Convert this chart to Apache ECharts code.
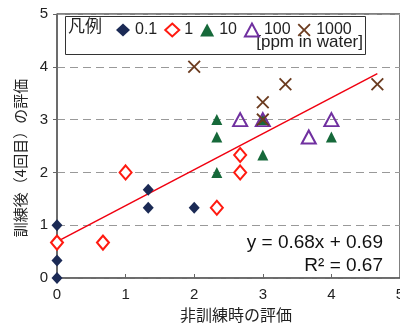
<!DOCTYPE html>
<html><head><meta charset="utf-8">
<script src="https://cdn.jsdelivr.net/npm/echarts@6/dist/echarts.min.js"></script>
<style>html,body{margin:0;padding:0;background:#fff}#c{width:400px;height:323px}</style>
</head><body><div id="c"></div>
<script>
var seriesNames = ['0.1', '1', '10', '100', '1000'];
var s01 = [[0,0],[0,0.33],[0,1],[1.33,1.67],[1.33,1.33],[2,1.33]];
var s1 = [[0,0.67],[0.67,0.67],[1,2],[2.33,1.33],[2.67,2],[2.67,2.33]];
var s10 = [[2.33,3],[2.33,2.67],[2.33,2],[3,2.33],[3,3],[4,2.67]];
var s100 = [[2.67,3],[3,3],[3.67,2.67],[4,3]];
var s1000 = [[2,4],[3,3],[3,3.33],[3.33,3.67],[4.67,3.67]];
var trendX = [0, 4.67];
var trendY = [0.69, 3.87];
var xTicks = [0,1,2,3,4,5];
var yTicks = [0,1,2,3,4,5];
var eqText = ['y = 0.68x + 0.69', 'R² = 0.67'];
var yName = '訓練後（4回目）の評価';
var xName = '非訓練時の評価';

var FONT = '"Liberation Sans", Arial, "Noto Sans CJK JP", sans-serif';
var CJK = '"Noto Sans CJK JP", sans-serif';
var CROSS = 'path://M0,1L1,0L5,4L9,0L10,1L6,5L10,9L9,10L5,6L1,10L0,9L4,5Z';
var chart = echarts.init(document.getElementById('c'), null, {renderer:'canvas'});
var trend = trendX.map(function(x,i){return [x, trendY[i]];});
chart.setOption({
  animation:false,
  textStyle:{fontFamily:FONT},
  grid:{left:57, right:0, top:14, bottom:45, outerBoundsMode:'none', containLabel:false,
    show:true, borderColor:'#000', borderWidth:1, backgroundColor:'transparent'},
  xAxis:{type:'value', min:xTicks[0], max:xTicks[xTicks.length-1], interval:1,
    name:xName, nameLocation:'middle', nameGap:28,
    nameTextStyle:{fontSize:16, color:'#222', fontFamily:CJK, padding:[0,0,0,15]},
    axisLine:{lineStyle:{color:'#666', width:1.5}},
    axisTick:{inside:true, length:4, lineStyle:{color:'#666'}},
    axisLabel:{fontSize:15, color:'#222', margin:9},
    splitLine:{show:false}},
  yAxis:{type:'value', min:yTicks[0], max:yTicks[yTicks.length-1], interval:1,
    axisLine:{show:true, lineStyle:{color:'#666', width:1.5}},
    axisTick:{show:true, inside:false, length:4, lineStyle:{color:'#666'}},
    axisLabel:{fontSize:15, color:'#222', margin:9},
    splitLine:{show:true, lineStyle:{color:'#999', type:[8,5], width:1}}},
  legend:{left:111, top:17, itemWidth:14, itemHeight:13, itemGap:7,
    textStyle:{fontSize:16, color:'#222', fontFamily:FONT},
    data:seriesNames},
  graphic:[
    {type:'rect', shape:{x:65.5, y:16.5, width:300, height:38}, style:{fill:'#fff', stroke:'#333', lineWidth:1}, z:-1, silent:true},
    {type:'text', left:68, top:17, style:{text:'凡例', fontSize:17, fill:'#222', fontFamily:CJK}},
    {type:'text', right:37, top:34, style:{text:'[ppm in water]', fontSize:17, fill:'#222', fontFamily:FONT}},
    {type:'text', right:17, top:233, style:{text:eqText[0], fontSize:19, fill:'#111', fontFamily:FONT, align:'right'}},
    {type:'text', right:17, top:256, style:{text:eqText[1], fontSize:19, fill:'#111', fontFamily:FONT, align:'right'}},
    {type:'text', x:20, y:158, rotation:Math.PI/2, style:{text:yName, fontSize:15, fill:'#222', fontFamily:CJK, align:'center', verticalAlign:'middle'}}
  ],
  series:[
    {name:'trend', type:'line', data:trend, symbol:'none', lineStyle:{color:'#f00010', width:1.5}, z:1, silent:true},
    {name:seriesNames[0], type:'scatter', data:s01, symbol:'diamond', symbolSize:[11,12], itemStyle:{color:'#1b2a55', opacity:1}, z:3},
    {name:seriesNames[1], type:'scatter', data:s1, symbol:'diamond', symbolSize:[12,14], itemStyle:{color:'#fff', borderColor:'#ff1a10', borderWidth:2, opacity:1}, z:2},
    {name:seriesNames[2], type:'scatter', data:s10, symbol:'triangle', symbolSize:[11,11], itemStyle:{color:'#16693a', opacity:1}, z:3},
    {name:seriesNames[3], type:'scatter', data:s100, symbol:'triangle', symbolSize:[14,13], itemStyle:{color:'rgba(255,255,255,0)', borderColor:'#7030a0', borderWidth:2, opacity:1}, z:4},
    {name:seriesNames[4], type:'scatter', data:s1000, symbol:CROSS, symbolSize:[13,13], itemStyle:{color:'#6b3b1f', opacity:1}, z:5}
  ]
});
</script></body></html>
